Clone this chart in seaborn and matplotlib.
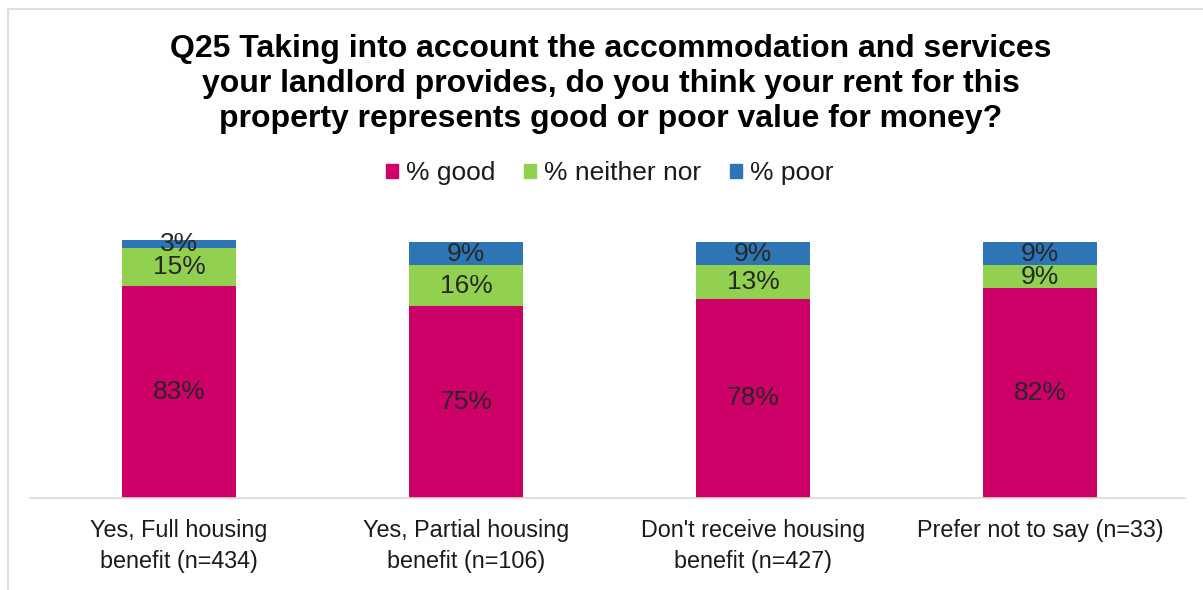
import matplotlib
matplotlib.use("Agg")
import matplotlib.pyplot as plt
import matplotlib.patches as mpatches
import numpy as np
import pandas as pd
import seaborn as sns

# Survey results (percent of respondents)
categories = [
    "Yes, Full housing\nbenefit (n=434)",
    "Yes, Partial housing\nbenefit (n=106)",
    "Don't receive housing\nbenefit (n=427)",
    "Prefer not to say (n=33)",
]
pct_good = [83, 75, 78, 82]
pct_neither = [15, 16, 13, 9]
pct_poor = [3, 9, 9, 9]
series_names = ["% good", "% neither nor", "% poor"]
series_colors = ["#CC0066", "#92D050", "#2E75B6"]

title = ("Q25 Taking into account the accommodation and services\n"
         "your landlord provides, do you think your rent for this\n"
         "property represents good or poor value for money?")

sns.set_theme(style="white")
plt.rcParams["font.family"] = ["Liberation Sans", "DejaVu Sans"]

df = pd.DataFrame({
    "category": categories,
    "good": pct_good,
    "neither": pct_neither,
    "poor": pct_poor,
})
df["cum_good"] = df["good"]
df["cum_neither"] = df["good"] + df["neither"]
df["cum_poor"] = df["cum_neither"] + df["poor"]

W, H = 1203, 590
fig = plt.figure(figsize=(W / 100, H / 100), dpi=100)

# light frame around the chart area
fig.patches.append(mpatches.Rectangle((7.5 / W, -0.05), 1.2, 1 - 9 / H + 0.05,
                                      transform=fig.transFigure, fill=False,
                                      edgecolor="#D9D9D9", linewidth=1.2))

ax_left, ax_right = 30 / W, 1185 / W
ax_bottom = 1 - 498 / H
ylim_top = 110
ax_height = ylim_top * 2.555 / H
ax = fig.add_axes([ax_left, ax_bottom, ax_right - ax_left, ax_height])

# stacked bars: draw cumulative totals from the top segment down
for col, color in zip(["cum_poor", "cum_neither", "cum_good"], series_colors[::-1]):
    sns.barplot(data=df, x="category", y=col, color=color, width=0.4,
                saturation=1, ax=ax, edgecolor="none", linewidth=0)

# segment value labels
text_color = "#262626"
for i in range(len(categories)):
    bottoms = [0, df["cum_good"][i], df["cum_neither"][i]]
    vals = [df["good"][i], df["neither"][i], df["poor"][i]]
    for b, v in zip(bottoms, vals):
        ax.text(i, b + v / 2, f"{v}%", ha="center", va="center",
                fontsize=19, color=text_color)

ax.set_xlim(-0.519, 3.505)
ax.set_ylim(0, ylim_top)
ax.set_xlabel("")
ax.set_ylabel("")
ax.set_yticks([])
for s in ["top", "right", "left"]:
    ax.spines[s].set_visible(False)
ax.spines["bottom"].set_color("#D9D9D9")
ax.spines["bottom"].set_linewidth(1.2)
ax.tick_params(axis="x", length=0, pad=15, labelsize=16.8, colors="#1a1a1a")
for lbl in ax.get_xticklabels():
    lbl.set_linespacing(1.45)

fig.text(611 / W, 1 - 84 / H, title, ha="center", va="center",
         fontsize=23, fontweight="bold", color="#000000", linespacing=1.2)

handles = [mpatches.Patch(color=c, label=n) for n, c in zip(series_names, series_colors)]
fig.legend(handles=handles, loc="center", bbox_to_anchor=(610 / W, 1 - 173 / H),
           ncol=3, frameon=False, fontsize=19, handlelength=0.45, handleheight=0.45,
           handletextpad=0.3, columnspacing=1.1, labelcolor="#1a1a1a")

fig.savefig("out.png", dpi=100, facecolor="white")
